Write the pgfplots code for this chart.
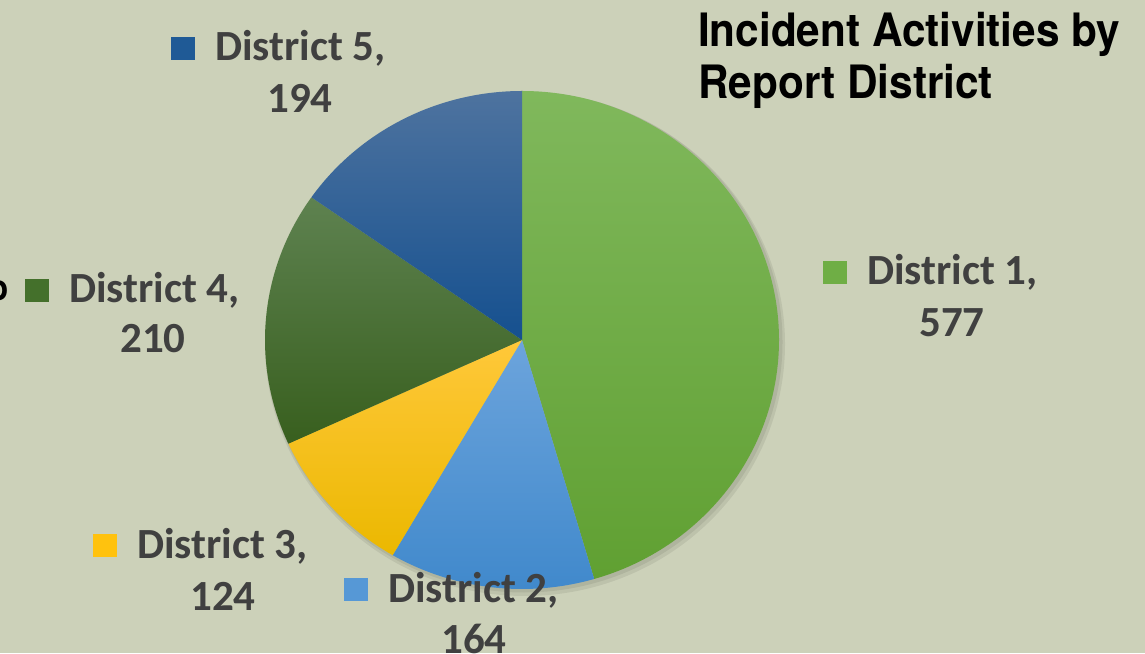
\documentclass[border=0pt]{standalone}
\usepackage{pgfplots}
\pgfplotsset{compat=1.18}
\usepackage{pgfplotstable}
\usepackage{fontspec}
\setmainfont{Carlito}
\newfontfamily\titlefont[FakeStretch=0.92]{TeX Gyre Heros}
\definecolor{bg}{HTML}{CCD1B9}
\definecolor{lbl}{HTML}{404040}
\definecolor{d1t}{HTML}{80B85C}\definecolor{d1b}{HTML}{60A032}\definecolor{d1}{HTML}{6FAE45}
\definecolor{d2t}{HTML}{6CA4DC}\definecolor{d2b}{HTML}{3F88CB}\definecolor{d2}{HTML}{5698D6}
\definecolor{d3t}{HTML}{FFC83A}\definecolor{d3b}{HTML}{EBB800}\definecolor{d3}{HTML}{FFC20E}
\definecolor{d4t}{HTML}{5E8250}\definecolor{d4b}{HTML}{385F1E}\definecolor{d4}{HTML}{44702B}
\definecolor{d5t}{HTML}{4E739F}\definecolor{d5b}{HTML}{15508F}\definecolor{d5}{HTML}{1F5A96}

\pgfplotstableread{
district value
1 577
2 164
3 124
4 210
5 194
}\piedata

\newcommand\slice[3]{%
  \shade[top color=#2, bottom color=#3] (axis cs:522,-340) -- ++(\csname angS#1\endcsname:257pt and 249pt)
    arc[start angle=\csname angS#1\endcsname, end angle=\csname angE#1\endcsname, x radius=257pt, y radius=249pt] -- cycle;}
\newcommand\lblfont{\fontsize{43}{43}\selectfont\bfseries\color{lbl}}
\newcommand\key[1]{\textcolor{#1}{\rule[1pt]{24pt}{23pt}}\hspace{20pt}}

\begin{document}
\begin{tikzpicture}
\xdef\total{0}
\foreach \r in {0,...,4}{%
  \pgfplotstablegetelem{\r}{value}\of\piedata
  \pgfmathsetmacro\t{\total+\pgfplotsretval}\xdef\total{\t}}
\xdef\cum{0}
\foreach \r in {0,...,4}{%
  \pgfplotstablegetelem{\r}{value}\of\piedata
  \let\v\pgfplotsretval
  \pgfmathsetmacro\a{90-(\cum/\total)*360}
  \pgfmathsetmacro\c{\cum+\v}
  \pgfmathsetmacro\b{90-(\c/\total)*360}
  \expandafter\xdef\csname angS\r\endcsname{\a}
  \expandafter\xdef\csname angE\r\endcsname{\b}
  \xdef\cum{\c}}
\useasboundingbox (0,0) rectangle (1145pt,653pt);
\fill[bg] (0,0) rectangle (1145pt,653pt);
\clip (0,0) rectangle (1145pt,653pt);
\begin{axis}[
  width=1145pt, height=653pt, scale only axis,
  xmin=0, xmax=1145, ymin=-653, ymax=0,
  hide axis, clip=false]
  % soft shadow
  \fill[black, opacity=0.07] (axis cs:525,-344) ellipse[x radius=260pt, y radius=252pt];
  \fill[black, opacity=0.07] (axis cs:524,-342) ellipse[x radius=258.5pt, y radius=250.5pt];
  \slice{0}{d1t}{d1b}
  \slice{1}{d2t}{d2b}
  \slice{2}{d3t}{d3b}
  \slice{3}{d4t}{d4b}
  \slice{4}{d5t}{d5b}
  % title
  \node[anchor=base west, inner sep=0pt, font=\titlefont\bfseries\fontsize{46}{46}\selectfont] at (axis cs:698,-47) {Incident Activities by};
  \node[anchor=base west, inner sep=0pt, font=\titlefont\bfseries\fontsize{46}{46}\selectfont] at (axis cs:698,-99) {Report District};
  \node[anchor=base east, inner sep=0pt, font=\titlefont\bfseries\fontsize{36}{36}\selectfont] at (axis cs:9,-301) {o};
  % labels
  \node[anchor=base west, inner sep=0pt, font=\lblfont] at (axis cs:823,-285) {\key{d1}District 1,};
  \node[anchor=base, inner sep=0pt, font=\lblfont] at (axis cs:952,-337) {577};
  \node[anchor=base west, inner sep=0pt, font=\lblfont] at (axis cs:344,-602) {\key{d2}District 2,};
  \node[anchor=base, inner sep=0pt, font=\lblfont] at (axis cs:474,-653) {164};
  \node[anchor=base west, inner sep=0pt, font=\lblfont] at (axis cs:93,-558) {\key{d3}District 3,};
  \node[anchor=base, inner sep=0pt, font=\lblfont] at (axis cs:223,-610) {124};
  \node[anchor=base west, inner sep=0pt, font=\lblfont] at (axis cs:25,-303) {\key{d4}District 4,};
  \node[anchor=base, inner sep=0pt, font=\lblfont] at (axis cs:153,-353) {210};
  \node[anchor=base west, inner sep=0pt, font=\lblfont] at (axis cs:171,-61) {\key{d5}District 5,};
  \node[anchor=base, inner sep=0pt, font=\lblfont] at (axis cs:300,-113) {194};
\end{axis}
\end{tikzpicture}
\end{document}
